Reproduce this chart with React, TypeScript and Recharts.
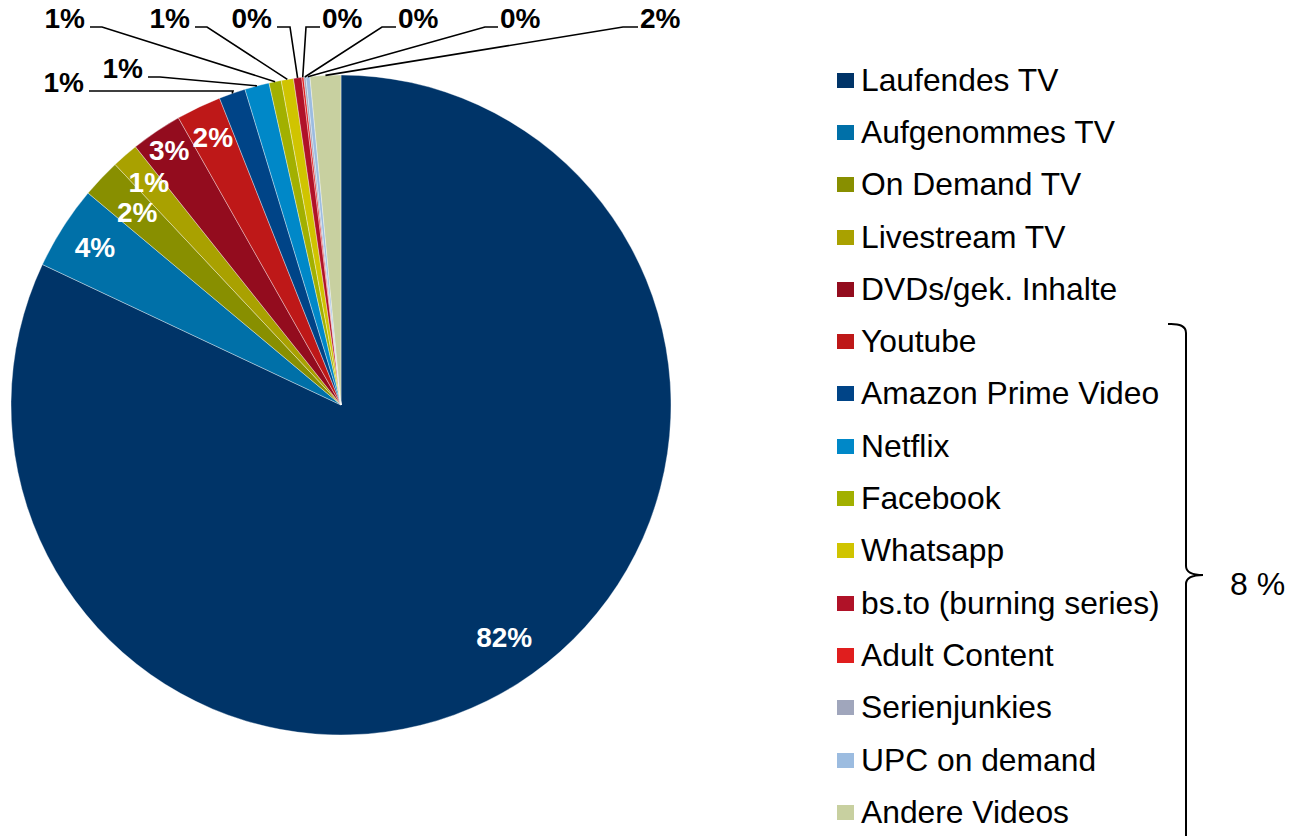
import React from "react";
import { PieChart, Pie, Cell, Legend } from "recharts";

const NAMES = [
  "Laufendes TV",
  "Aufgenommes TV",
  "On Demand TV",
  "Livestream TV",
  "DVDs/gek. Inhalte",
  "Youtube",
  "Amazon Prime Video",
  "Netflix",
  "Facebook",
  "Whatsapp",
  "bs.to (burning series)",
  "Adult Content",
  "Serienjunkies",
  "UPC on demand",
  "Andere Videos",
];

// shares in %
const VALUES = [82.0, 4.1, 1.9, 1.3, 2.5, 2.2, 1.3, 1.2, 0.6, 0.6, 0.4, 0.1, 0.1, 0.2, 1.5];

const COLORS = [
  "#003468",
  "#0070a8",
  "#888f00",
  "#a9a100",
  "#930c1e",
  "#be1818",
  "#004487",
  "#0088c8",
  "#a2b000",
  "#d0c400",
  "#b01228",
  "#e01e1e",
  "#a0a6bc",
  "#9cbce0",
  "#c8d0a0",
];

const data = NAMES.map((name, i) => ({ name, value: VALUES[i] }));

const FONT = '"Liberation Sans", Arial, sans-serif';
const RAD = Math.PI / 180;

// label placement (layout only): radial factor / angle shift for labels inside slices
const INSIDE_R = [0.86, 0.885, 0.85, 0.89, 0.93, 0.9];
const INSIDE_SHIFT = [2.7, 0, 0, 0, 0, 0];
// outside labels: text x / baseline y, elbow x (relative to pie centre)
const OUTSIDE: Record<number, { tx: number; ty: number; ex: number; anchor: "start" | "end" }> = {
  6: { tx: -257, ty: -313, ex: -108, anchor: "end" },
  7: { tx: -198, ty: -327, ex: -181, anchor: "end" },
  8: { tx: -256, ty: -377, ex: -239, anchor: "end" },
  9: { tx: -151, ty: -377, ex: -134, anchor: "end" },
  10: { tx: -69, ty: -377, ex: -51, anchor: "end" },
  11: { tx: -19, ty: -377, ex: -35, anchor: "start" },
  12: { tx: 57, ty: -377, ex: 41, anchor: "start" },
  13: { tx: 159, ty: -377, ex: 144, anchor: "start" },
  14: { tx: 299, ty: -377, ex: 282, anchor: "start" },
};

const renderLabel = (props: any) => {
  const { cx, cy, midAngle, outerRadius, index, value } = props;
  const text = `${Math.round(value)}%`;
  if (index < INSIDE_R.length) {
    const r = outerRadius * INSIDE_R[index];
    const a = midAngle + INSIDE_SHIFT[index];
    const x = cx + r * Math.cos(-a * RAD);
    const y = cy + r * Math.sin(-a * RAD);
    return (
      <text
        key={`l${index}`}
        x={x}
        y={y}
        fill="#fff"
        textAnchor="middle"
        dominantBaseline="central"
        fontFamily={FONT}
        fontWeight="bold"
        fontSize={28}
      >
        {text}
      </text>
    );
  }
  const o = OUTSIDE[index];
  if (!o) return null;
  const px = cx + outerRadius * Math.cos(-midAngle * RAD);
  const py = cy + outerRadius * Math.sin(-midAngle * RAD);
  const ly = cy + o.ty - 1;
  const tx = cx + o.tx;
  const ex = cx + o.ex;
  const hx = o.anchor === "end" ? tx + 5 : tx - 2;
  return (
    <g key={`l${index}`}>
      <polyline
        points={`${hx},${ly} ${ex},${ly} ${px},${py}`}
        fill="none"
        stroke="#000"
        strokeWidth={1.6}
      />
      <text
        x={tx}
        y={cy + o.ty}
        fill="#000"
        textAnchor={o.anchor}
        fontFamily={FONT}
        fontWeight="bold"
        fontSize={28}
      >
        {text}
      </text>
    </g>
  );
};

const renderLegend = (props: any) => {
  const items = [...(props.payload || [])].sort(
    (a: any, b: any) => NAMES.indexOf(a.value) - NAMES.indexOf(b.value)
  );
  return (
    <div style={{ fontFamily: FONT }}>
      {items.map((p: any, i: number) => (
        <div
          key={i}
          style={{ height: 52.3, display: "flex", alignItems: "center", whiteSpace: "nowrap" }}
        >
          <span
            style={{
              display: "inline-block",
              width: 17,
              height: 15,
              background: p.color,
              marginRight: 7,
            }}
          />
          <span style={{ fontSize: 31.8, color: "#000" }}>{p.value}</span>
        </div>
      ))}
    </div>
  );
};

export default function App() {
  return (
    <div style={{ position: "absolute", left: 0, top: 0, width: 1308, height: 836, background: "#fff" }}>
      <PieChart width={1308} height={836} margin={{ top: 0, right: 0, bottom: 0, left: 0 }}>
        <Pie
          data={data}
          dataKey="value"
          nameKey="name"
          cx={341}
          cy={405}
          outerRadius={330}
          startAngle={90}
          endAngle={-270}
          label={renderLabel}
          labelLine={false}
          stroke="rgba(255,255,255,0.45)"
          strokeWidth={0.8}
          isAnimationActive={false}
        >
          {data.map((d, i) => (
            <Cell key={d.name} fill={COLORS[i]} />
          ))}
        </Pie>
        <Legend
          layout="vertical"
          align="right"
          verticalAlign="top"
          content={renderLegend}
          wrapperStyle={{ left: 837, top: 54, width: 360 }}
        />
      </PieChart>
      <svg
        width={1308}
        height={836}
        style={{ position: "absolute", left: 0, top: 0, pointerEvents: "none" }}
      >
        <path
          d="M1168 324 Q1186 323 1186 333 L1186 566 Q1186 575 1203 575 Q1186 575 1186 584 L1186 840"
          fill="none"
          stroke="#000"
          strokeWidth={2}
        />
        <text x={1230} y={595} fontFamily={FONT} fontSize={32} fill="#000">
          8 %
        </text>
      </svg>
    </div>
  );
}
